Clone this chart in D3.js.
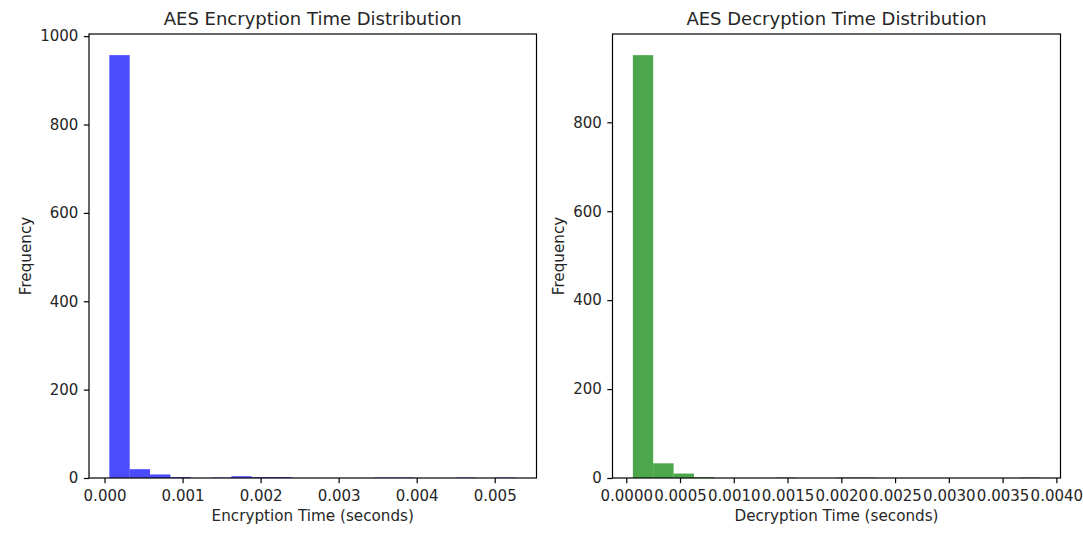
<!DOCTYPE html>
<html>
<head>
<meta charset="utf-8">
<script src="https://cdn.jsdelivr.net/npm/d3@7"></script>
<style>
  body { margin: 0; background: #fff; }
  text { font-family: "DejaVu Sans", sans-serif; fill: #262626; }
</style>
</head>
<body>
<script>
// Global variable
const w = 1083;
const h = 533;

// Encryption histogram (20 bins)
const encRange = [0.0000615, 0.005275];
const encCounts = [957, 20, 8, 2, 0, 1, 4, 2, 2, 0, 0, 0, 0, 1, 1, 0, 0, 1, 0, 1];
const encTicksX = [0, 0.001, 0.002, 0.003, 0.004, 0.005];
const encTicksY = [0, 200, 400, 600, 800, 1000];

// Decryption histogram (20 bins)
const decRange = [0.0000616, 0.003849];
const decCounts = [951, 33, 10, 2, 0, 0, 0, 1, 0, 0, 1, 1, 0, 0, 0, 0, 0, 0, 0, 1];
const decTicksX = [0, 0.0005, 0.001, 0.0015, 0.002, 0.0025, 0.003, 0.0035, 0.004];
const decTicksY = [0, 200, 400, 600, 800];

//Create SVG element
let svg = d3.select("body")
            .append("svg")
                .attr("width", w)
                .attr("height", h);

// Draw one histogram panel
function panel(opt) {
    const left = opt.left, right = opt.right, top = 34, bottom = 478;
    const n = opt.counts.length;
    const bw = (opt.range[1] - opt.range[0]) / n;
    const bins = opt.counts.map((c, i) => ({
        x0: opt.range[0] + i * bw,
        x1: opt.range[0] + (i + 1) * bw,
        count: c
    }));
    const span = opt.range[1] - opt.range[0];

    let x = d3.scaleLinear()
            .domain([opt.range[0] - 0.05 * span, opt.range[1] + 0.05 * span])
            .range([left, right]);

    let y = d3.scaleLinear()
            .domain([0, d3.max(opt.counts) * 1.05])
            .range([bottom, top]);

    let g = svg.append("g");

    g.selectAll("rect.bar")
        .data(bins.filter(d => d.count > 0))
        .enter()
        .append("rect")
        .attr("class", "bar")
        .attr("x", d => x(d.x0))
        .attr("width", d => x(d.x1) - x(d.x0))
        .attr("y", d => y(d.count))
        .attr("height", d => y(0) - y(d.count))
        .attr("fill", opt.color)
        .attr("fill-opacity", 0.7);

    // x axis
    let xa = g.append("g")
        .attr("transform", "translate(0," + bottom + ")")
        .call(d3.axisBottom(x).tickValues(opt.ticksX).tickFormat(d3.format(opt.fmt))
              .tickSize(5.2).tickPadding(6.8));
    xa.select(".domain").remove();

    // y axis
    let ya = g.append("g")
        .attr("transform", "translate(" + left + ",0)")
        .call(d3.axisLeft(y).tickValues(opt.ticksY).tickFormat(d3.format("d"))
              .tickSize(5.2).tickPadding(5.5));
    ya.select(".domain").remove();

    g.selectAll(".tick line").attr("stroke", "#000").attr("stroke-width", 1.2);
    g.selectAll(".tick text").style("font-size", "15px").attr("fill", "#262626");

    // frame
    g.append("rect")
        .attr("x", left).attr("y", top)
        .attr("width", right - left).attr("height", bottom - top)
        .attr("fill", "none")
        .attr("stroke", "#000")
        .attr("stroke-width", 1.2);

    // title
    g.append("text")
        .attr("x", (left + right) / 2)
        .attr("y", 25)
        .attr("text-anchor", "middle")
        .style("font-size", "18px")
        .text(opt.title);

    // x label
    g.append("text")
        .attr("x", (left + right) / 2)
        .attr("y", 521)
        .attr("text-anchor", "middle")
        .style("font-size", "15.2px")
        .text(opt.xlabel);

    // y label
    g.append("text")
        .attr("transform", "translate(" + opt.ylabelX + "," + (top + bottom) / 2 + ") rotate(-90)")
        .attr("text-anchor", "middle")
        .style("font-size", "15.2px")
        .text("Frequency");
}

panel({
    left: 89, right: 536.5,
    range: encRange, counts: encCounts,
    ticksX: encTicksX, ticksY: encTicksY, fmt: ".3f",
    color: "blue",
    title: "AES Encryption Time Distribution",
    xlabel: "Encryption Time (seconds)",
    ylabelX: 31
});

panel({
    left: 612.5, right: 1060.5,
    range: decRange, counts: decCounts,
    ticksX: decTicksX, ticksY: decTicksY, fmt: ".4f",
    color: "green",
    title: "AES Decryption Time Distribution",
    xlabel: "Decryption Time (seconds)",
    ylabelX: 564
});
</script>
</body>
</html>
